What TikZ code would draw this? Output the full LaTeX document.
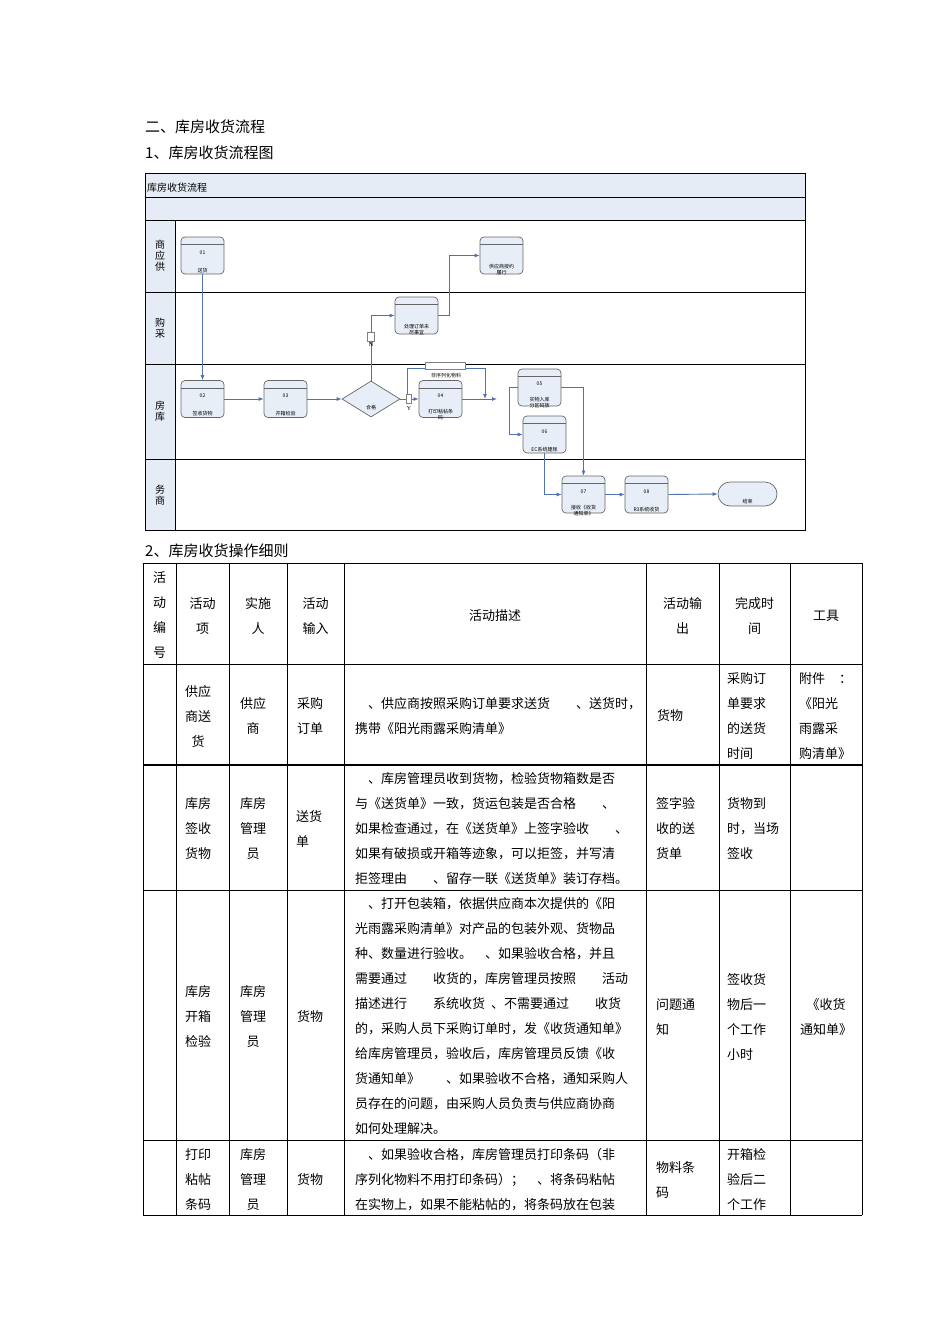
\documentclass[tikz,border=0pt]{standalone}
\usepackage{fontspec}
\setmainfont{Liberation Serif}
\newfontfamily\cjk{Noto Sans CJK SC}
\usetikzlibrary{shapes.geometric,calc,arrows.meta}
\definecolor{boxfill}{HTML}{E8EEF7}
\definecolor{barfill}{HTML}{E6ECF6}
\definecolor{flow}{HTML}{4F73AE}
\tikzset{
 proc/.style={draw=gray!80!black, fill=boxfill, rounded corners=4pt, minimum width=43pt, minimum height=37pt, inner sep=0pt, line width=0.7pt},
 tiny/.style={font=\cjk\fontsize{5}{6}\selectfont, align=center, inner sep=0pt},
 flw/.style={draw=flow, line width=0.9pt, -{Latex[length=5pt,width=4pt]}},
 cell/.style={font=\cjk\fontsize{13}{25}\selectfont, align=center, inner sep=0pt},
 desc/.style={font=\cjk\fontsize{13}{25}\selectfont, align=left, anchor=north west, inner sep=0pt},
 lane/.style={font=\cjk\fontsize{10}{11}\selectfont, align=center, inner sep=0pt},
 tline/.style={line width=0.8pt}
}
\begin{document}
\begin{tikzpicture}[x=1pt,y=-1pt]
\useasboundingbox (0,0) rectangle (950,1344);
\fill[white] (0,0) rectangle (950,1344);
% headings
\node[anchor=west, font=\cjk\fontsize{15}{16}\selectfont, inner sep=0pt] (h1) at (145,127) {二、库房收货流程};
\node[anchor=west, font=\cjk\fontsize{15}{16}\selectfont, inner sep=0pt] (h2) at (145,153) {1、库房收货流程图};
\node[anchor=west, font=\cjk\fontsize{15}{16}\selectfont, inner sep=0pt] (h3) at (145,551) {2、库房收货操作细则};
% flowchart frame
\fill[barfill] (145,173) rectangle (805,220);
\fill[barfill] (145,220) rectangle (175,530);
\draw[line width=0.8pt] (145,173) rectangle (805,530);
\draw[line width=0.8pt] (145,197) -- (805,197);
\draw[line width=1pt] (145,220) -- (805,220);
\draw[line width=1pt] (145,292) -- (805,292);
\draw[line width=1pt] (145,364) -- (805,364);
\draw[line width=1pt] (145,459) -- (805,459);
\draw[line width=1pt] (175,220) -- (175,530);
\node[anchor=west, font=\cjk\fontsize{10}{11}\selectfont, inner sep=0pt] (ft) at (147,188) {库房收货流程};
\node[lane] (l1) at (160,256) {商\\应\\供};
\node[lane] (l2) at (160,328) {购\\采};
\node[lane] (l3) at (160,411) {房\\库};
\node[lane] (l4) at (160,495) {务\\商};
% process boxes
\node[proc] (n01) at (202.5,255.5) {};
\node[proc] (nsup) at (501.5,255.5) {};
\node[proc] (npur) at (416.5,315.5) {};
\node[proc] (n02) at (202.5,399) {};
\node[proc] (n03) at (285.5,399) {};
\node[proc] (n04) at (440.5,399) {};
\node[proc] (n05) at (539.5,387.5) {};
\node[proc] (n06) at (544.5,434.5) {};
\node[proc] (n07) at (583.5,494.5) {};
\node[proc] (n08) at (646.5,494.5) {};
\node[draw=gray!80!black, fill=boxfill, rounded corners=12pt, minimum width=59pt, minimum height=24pt, line width=0.7pt] (nend) at (747.5,494) {};
\node[diamond, draw=gray!80!black, fill=boxfill, minimum width=58pt, minimum height=36pt, inner sep=0pt, line width=0.7pt] (dq) at (371,399) {};
\foreach \n in {n01,nsup,npur,n02,n03,n04,n05,n06,n07,n08}
  \draw[gray!80!black, line width=0.7pt] ([yshift=-8pt]\n.north west) -- ([yshift=-8pt]\n.north east);
% node texts
\node[tiny] (t01a) at (202.5,253) {01};
\node[tiny] (t01b) at (202.5,271) {送货};
\node[tiny] (tsup) at (501.5,270) {供应商按约\\履行};
\node[tiny] (tpur) at (416.5,330) {处理订单未\\尽事宜};
\node[tiny] (t02a) at (202.5,396) {02};
\node[tiny] (t02b) at (202.5,414) {签收货物};
\node[tiny] (t03a) at (285.5,396) {03};
\node[tiny] (t03b) at (285.5,414) {开箱检验};
\node[tiny] (tdq) at (371,408) {合格};
\node[tiny] (t04a) at (440.5,396) {04};
\node[tiny] (t04b) at (440.5,415) {打印粘帖条\\码};
\node[tiny] (t05a) at (539.5,384) {05};
\node[tiny] (t05b) at (539.5,403) {实物入库\\分区码放};
\node[tiny] (t06a) at (544.5,432) {06};
\node[tiny] (t06b) at (544.5,450) {EC系统建账};
\node[tiny] (t07a) at (583.5,492) {07};
\node[tiny] (t07b) at (583.5,511) {接收《收货\\通知单》};
\node[tiny] (t08a) at (646.5,492) {08};
\node[tiny] (t08b) at (646.5,510) {R3系统收货};
\node[tiny] (tend) at (747.5,502) {结束};
% connectors
\coordinate (cy) at (409,399);
\coordinate (cn) at (371,337);
\coordinate (cend) at (497,399);
\draw[flw] (n01.south) -- (n02.north);
\draw[flw] (n02.east) -- (n03.west);
\draw[flw] (n03.east) -- (dq.west);
\draw[flw] (dq.east) -- (n04.west);
\draw[flw] (dq.north) |- (npur.west);
\draw[flw] (npur.east) -- ++(11,0) |- (nsup.west);
\draw[flw] (407,399) -- (407,368) -- (485,368) -- (485,399);
\draw[flw] (n04.east) -- (cend);
\draw[flw] (n05.west) -- ++(-8,0) |- (n06.west);
\draw[flw] (n05.east) -| (n07.north);
\draw[flw] (n06.south) |- (n07.west);
\draw[flw] (n07.east) -- (n08.west);
\draw[flw] (n08.east) -- (nend.west);
\node[draw=gray, fill=white, minimum width=5pt, minimum height=9pt, inner sep=0pt] (by) at (cy) {};
\node[font=\fontsize{6}{7}\selectfont, inner sep=0pt] (ly) at (409,409) {Y};
\node[draw=gray, fill=white, minimum width=7pt, minimum height=9pt, inner sep=0pt] (bn) at (cn) {};
\node[font=\bfseries\fontsize{6}{7}\selectfont, inner sep=0pt] (ln) at (371,345) {N};
\node[draw=gray, fill=white, minimum width=40pt, minimum height=7pt, inner sep=0pt] (bnon) at (445,366) {};
\node[tiny] (lnon) at (446,376) {非序列化物料};
% table
\foreach \x in {143,176,229,287,344,646,719,790,862}
  \draw[tline] (\x,563) -- (\x,1215);
\draw[tline] (143,563) -- (862,563);
\foreach \y in {664,890,1140,1215}
  \draw[tline] (143,\y) -- (862,\y);
\draw[line width=1.6pt] (143,765) -- (862,765);
% header
\node[cell] (c11) at (159.5,615) {活\\动\\编\\号};
\node[cell] (c12) at (202.5,616) {活动\\项};
\node[cell] (c13) at (258,616) {实施\\人};
\node[cell] (c14) at (315.5,616) {活动\\输入};
\node[cell] (c15) at (495,616) {活动描述};
\node[cell] (c16) at (682.5,616) {活动输\\出};
\node[cell] (c17) at (754.5,616) {完成时\\间};
\node[cell] (c18) at (826,616) {工具};
% row 1
\node[cell] (r12) at (198,716) {供应\\商送\\货};
\node[cell] (r13) at (253,716) {供应\\商};
\node[cell] (r14) at (310,716) {采购\\订单};
\node[desc] (r15) at (355,697) {\hspace{13pt}、供应商按照采购订单要求送货\hspace{26pt}、送货时，\\携带《阳光雨露采购清单》};
\node[cell] (r16) at (670,716) {货物};
\node[cell, align=left, anchor=west] (r17) at (727,716) {采购订\\单要求\\的送货\\时间};
\node[cell, align=left, anchor=west] (r18) at (799,716) {附件\hspace{14pt}：\\《阳光\\雨露采\\购清单》};
% row 2
\node[cell] (r22) at (198,829) {库房\\签收\\货物};
\node[cell] (r23) at (253,829) {库房\\管理\\员};
\node[cell, align=left, anchor=west] (r24) at (296,829) {送货\\单};
\node[desc] (r25) at (355,772) {\hspace{13pt}、库房管理员收到货物，检验货物箱数是否\\与《送货单》一致，货运包装是否合格\hspace{26pt}、\\如果检查通过，在《送货单》上签字验收\hspace{26pt}、\\如果有破损或开箱等迹象，可以拒签，并写清\\拒签理由\hspace{26pt}、留存一联《送货单》装订存档。};
\node[cell, align=left, anchor=west] (r26) at (656,829) {签字验\\收的送\\货单};
\node[cell, align=left, anchor=west] (r27) at (727,829) {货物到\\时，当场\\签收};
% row 3
\node[cell] (r32) at (198,1017) {库房\\开箱\\检验};
\node[cell] (r33) at (253,1017) {库房\\管理\\员};
\node[cell] (r34) at (310,1017) {货物};
\node[desc] (r35) at (355,897) {\hspace{13pt}、打开包装箱，依据供应商本次提供的《阳\\光雨露采购清单》对产品的包装外观、货物品\\种、数量进行验收。\hspace{13pt}、如果验收合格，并且\\需要通过\hspace{26pt}收货的，库房管理员按照\hspace{26pt}活动\\描述进行\hspace{26pt}系统收货\hspace{6pt}、不需要通过\hspace{26pt}收货\\的，采购人员下采购订单时，发《收货通知单》\\给库房管理员，验收后，库房管理员反馈《收\\货通知单》\hspace{26pt}、如果验收不合格，通知采购人\\员存在的问题，由采购人员负责与供应商协商\\如何处理解决。};
\node[cell, align=left, anchor=west] (r36) at (656,1017) {问题通\\知};
\node[cell, align=left, anchor=west] (r37) at (727,1017) {签收货\\物后一\\个工作\\小时};
\node[cell] (r38) at (826,1017) {《收货\\通知单》};
% row 4
\node[cell, anchor=north] (r42) at (198,1148) {打印\\粘帖\\条码};
\node[cell, anchor=north] (r43) at (253,1148) {库房\\管理\\员};
\node[cell] (r44) at (310,1180) {货物};
\node[desc] (r45) at (355,1148) {\hspace{13pt}、如果验收合格，库房管理员打印条码（非\\序列化物料不用打印条码）；\hspace{13pt}、将条码粘帖\\在实物上，如果不能粘帖的，将条码放在包装};
\node[cell, align=left, anchor=west] (r46) at (656,1180) {物料条\\码};
\node[cell, align=left, anchor=north west] (r47) at (727,1148) {开箱检\\验后二\\个工作};
\end{tikzpicture}
\end{document}
